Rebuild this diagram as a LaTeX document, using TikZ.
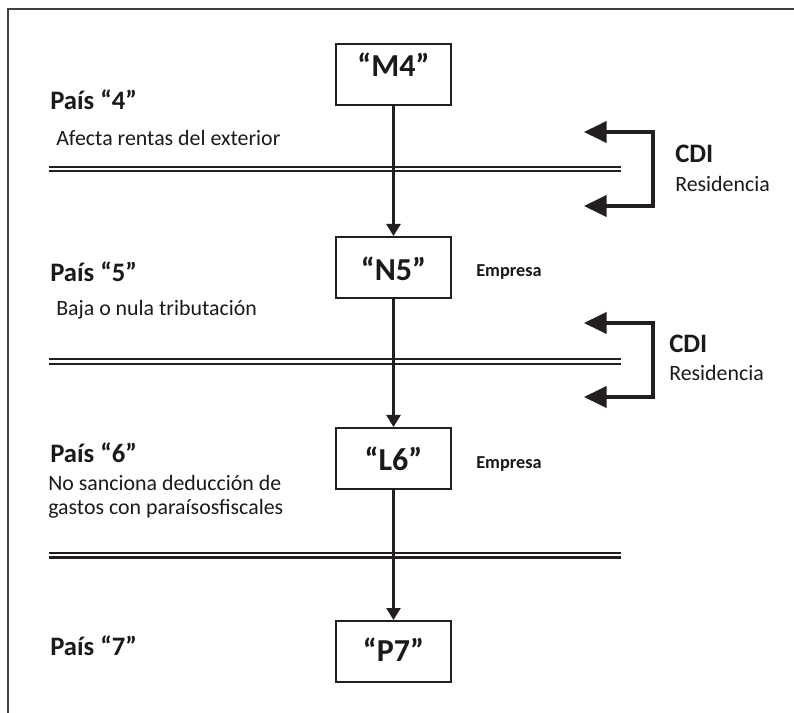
\documentclass[tikz,border=0pt]{standalone}
\usepackage{fontspec}
\setmainfont{Carlito}
\usetikzlibrary{arrows.meta}
\definecolor{inkc}{HTML}{231F20}
\definecolor{txtc}{HTML}{1A1A1A}
\definecolor{framec}{HTML}{404040}
\begin{document}
\begin{tikzpicture}[x=0.75pt,y=-0.75pt,
  box/.style={draw=inkc, line width=1.5pt, minimum width=86.25pt,
    minimum height=45.75pt, inner sep=0pt, fill=white},
  boxlabel/.style={anchor=base, inner sep=0pt, text=txtc,
    font=\fontsize{24pt}{28pt}\selectfont\bfseries},
  country/.style={anchor=base west, inner sep=0pt, text=txtc,
    font=\fontsize{20pt}{24pt}\selectfont\bfseries},
  note/.style={anchor=base west, inner sep=0pt, text=txtc,
    font=\fontsize{16.4pt}{19pt}\selectfont},
  firm/.style={anchor=base west, inner sep=0pt, text=txtc,
    font=\fontsize{13.7pt}{16pt}\selectfont\bfseries},
  flow/.style={draw=inkc, line width=1.8pt,
    -{Triangle[length=9pt,width=10.5pt]}},
  treaty/.style={draw=inkc, line width=2.4pt, line join=miter,
    {Triangle[length=17pt,width=16pt]}-{Triangle[length=17pt,width=16pt]}},
  border/.style={draw=inkc, line width=1.5pt}
]
\useasboundingbox (0,0) rectangle (794,713);

% page frame (top and left edges)
\draw[framec, line width=1.5pt] (8,713) -- (8,9) -- (794,9);

% entities
\node[box] (m4) at (393.5,74.5) {};
\node[box] (n5) at (393.5,267.5) {};
\node[box] (l6) at (393.5,458.5) {};
\node[box] (p7) at (393.5,651.5) {};
\node[boxlabel] (m4t) at (393.5,77) {“M4”};
\node[boxlabel] (n5t) at (393.5,281) {“N5”};
\node[boxlabel] (l6t) at (393.5,470) {“L6”};
\node[boxlabel] (p7t) at (393.5,662) {“P7”};

% country separators (double rules)
\foreach \y in {167,171.5,359.5,364,553,557.5}
  \draw[border] (49,\y) -- (621,\y);

% ownership chain
\draw[flow] (m4) -- (n5);
\draw[flow] (n5) -- (l6);
\draw[flow] (l6) -- (p7);

% treaty brackets
\coordinate (t1a) at (584,132);
\coordinate (t1c) at (653,132);
\coordinate (t1b) at (584,206);
\draw[treaty] (t1a) -- (t1c) |- (t1b);
\coordinate (t2a) at (584,323);
\coordinate (t2c) at (653,323);
\coordinate (t2b) at (584,397);
\draw[treaty] (t2a) -- (t2c) |- (t2b);

\node[country] (cdi1) at (675,163) {CDI};
\node[note] (res1) at (675,192) {Residencia};
\node[country] (cdi2) at (669,353) {CDI};
\node[note] (res2) at (669,381) {Residencia};

% countries
\node[country] (p4) at (50,110) {País “4”};
\node[note] (d4) at (56,146) {Afecta rentas del exterior};
\node[country] (p5) at (50,282) {País “5”};
\node[note] (d5) at (56,316) {Baja o nula tributación};
\node[country] (p6) at (50,463) {País “6”};
\node[note] (d6a) at (48,490) {No sanciona deducción de};
\node[note] (d6b) at (48,515) {gastos con paraísosfiscales};
\node[country] (p7c) at (50,655) {País “7”};

% company labels
\node[firm] (e5) at (476,277) {Empresa};
\node[firm] (e6) at (476,469) {Empresa};
\end{tikzpicture}
\end{document}
